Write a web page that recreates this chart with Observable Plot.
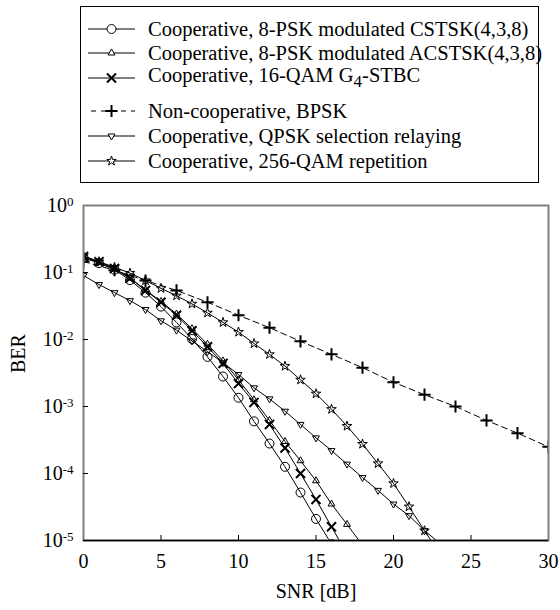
<!DOCTYPE html>
<html><head><meta charset="utf-8">
<script src="https://cdn.jsdelivr.net/npm/d3@7"></script>
<script src="https://cdn.jsdelivr.net/npm/@observablehq/plot@0.6"></script>
<style>
body{margin:0;background:#fff;}
#wrap{position:relative;width:560px;height:610px;font-family:"Liberation Serif","Times New Roman",serif;color:#000;}
#legend{position:absolute;left:80px;top:6px;width:459px;height:177px;border:1px solid #000;box-sizing:border-box;}
.row{position:absolute;left:0;height:24px;display:flex;align-items:center;font-size:20.5px;white-space:nowrap;}
.row svg{flex:none;margin-right:8px;}
#chart{position:absolute;left:0;top:190px;}
#chart svg{display:block;}
</style></head><body>
<div id="wrap"><div id="legend"></div><div id="chart"></div></div>
<script>
// ---- data ----
const snrCSTSK = [0,1,2,3,4,5,6,7,8,9,10,11,12,13,14,15,16];
const berCSTSK = [0.166,0.138,0.110,0.077,0.050,0.031,0.018,0.0102,0.0055,0.0028,0.00135,6.0e-4,2.8e-4,1.26e-4,5.2e-5,2.1e-5,8.9e-6];

const snrACSTSK = [0,1,2,3,4,5,6,7,8,9,10,11,12,13,14,15,16,17,18];
const berACSTSK = [0.170,0.141,0.112,0.083,0.055,0.037,0.024,0.0145,0.0085,0.0048,0.0025,0.00126,6.2e-4,3.0e-4,1.55e-4,7.8e-5,3.5e-5,1.74e-5,8.5e-6];

const snrSTBC = [0,1,2,3,4,5,6,7,8,9,10,11,12,13,14,15,16,17];
const berSTBC = [0.174,0.145,0.115,0.082,0.054,0.036,0.023,0.0135,0.0078,0.0044,0.0022,0.00115,5.4e-4,2.4e-4,1.0e-4,4.1e-5,1.6e-5,6.3e-6];

const snrBPSK = [0,2,4,6,8,10,12,14,16,18,20,22,24,26,28,30];
const berBPSK = [0.146,0.108,0.076,0.054,0.036,0.023,0.015,0.0094,0.0060,0.0038,0.0023,0.0015,0.0010,6.2e-4,4.0e-4,2.5e-4];

const snrQPSK = [0,1,2,3,4,5,6,7,8,9,10,11,12,13,14,15,16,17,18,19,20,21,22,23];
const berQPSK = [0.090,0.066,0.050,0.038,0.028,0.019,0.0138,0.0095,0.0066,0.0045,0.0030,0.0019,0.0013,8.5e-4,5.4e-4,3.4e-4,2.2e-4,1.38e-4,8.7e-5,5.6e-5,3.5e-5,2.35e-5,1.4e-5,9.1e-6];

const snrQAM256 = [0,1,2,3,4,5,6,7,8,9,10,11,12,13,14,15,16,17,18,19,20,21,22,23];
const berQAM256 = [0.178,0.145,0.120,0.098,0.076,0.058,0.045,0.034,0.025,0.018,0.0129,0.0087,0.0060,0.0040,0.0025,0.00155,9.1e-4,5.1e-4,2.75e-4,1.41e-4,7.1e-5,3.2e-5,1.4e-5,6.3e-6];

const seriesNames = [
  "Cooperative, 8-PSK modulated CSTSK(4,3,8)",
  "Cooperative, 8-PSK modulated ACSTSK(4,3,8)",
  "Cooperative, 16-QAM G<sub>4</sub>-STBC",
  "Non-cooperative, BPSK",
  "Cooperative, QPSK selection relaying",
  "Cooperative, 256-QAM repetition"
];
const xTicks = [0,5,10,15,20,25,30];
const yTicks = [1,1e-1,1e-2,1e-3,1e-4,1e-5];

// ---- styles per series ----
const styles = [
  {snr: snrCSTSK, ber: berCSTSK, symbol: "circle", r: 4.5, sw: 1, rotate: 0, dash: null},
  {snr: snrACSTSK, ber: berACSTSK, symbol: "triangle2", r: 3.3, sw: 1, rotate: 0, dash: null},
  {snr: snrSTBC, ber: berSTBC, symbol: "times", r: 4.2, sw: 2, rotate: 0, dash: null},
  {snr: snrBPSK, ber: berBPSK, symbol: "plus", r: 4, sw: 2, rotate: 0, dash: "6,4"},
  {snr: snrQPSK, ber: berQPSK, symbol: "triangle2", r: 3.3, sw: 1, rotate: 180, dash: null},
  {snr: snrQAM256, ber: berQAM256, symbol: "star", r: 3, sw: 1, rotate: 0, dash: null}
];
const tables = styles.map(s => s.snr.map((x, i) => ({x, y: s.ber[i]})));

const marks = [];
styles.forEach((s, k) => {
  marks.push(Plot.line(tables[k], {x: "x", y: "y", stroke: "black", strokeWidth: 1, strokeDasharray: s.dash, clip: true}));
});
styles.forEach((s, k) => {
  marks.push(Plot.dot(tables[k], {x: "x", y: "y", symbol: s.symbol, r: s.r, stroke: "black", fill: "none", strokeWidth: s.sw, rotate: s.rotate, clip: true}));
});

const chart = Plot.plot({
  width: 560, height: 420,
  marginTop: 15, marginBottom: 70, marginLeft: 83, marginRight: 12,
  style: {fontFamily: "'Liberation Serif','Times New Roman',serif", fontSize: "20px", background: "white", overflow: "visible"},
  x: {domain: [0, 30]},
  y: {type: "log", domain: [1e-5, 1]},
  marks: [
    ...marks,
    Plot.frame({stroke: "#808080", strokeWidth: 2}),
    Plot.ruleY([1e-5], {stroke: "black", strokeWidth: 1.5}),
    Plot.ruleX(xTicks.slice(1, -1), {x: d => d, y1: 1e-5, y2: 1e-5, insetTop: -5, stroke: "black"}),
    Plot.ruleY(yTicks.slice(1, -1), {y: d => d, x1: 0, x2: 0, insetRight: -5, stroke: "black"}),
    Plot.axisX(xTicks, {tickSize: 0, tickPadding: 13, fontSize: 20, label: null}),
    Plot.axisY(yTicks, {tickSize: 0, tickPadding: 10, fontSize: 20, label: null, tickFormat: d => "10^" + Math.round(Math.log10(d))}),
    Plot.text(["BER"], {frameAnchor: "left", dx: -65, rotate: -90, fontSize: 20, text: d => d}),
    Plot.text(["SNR [dB]"], {frameAnchor: "bottom", dy: 57, fontSize: 20, text: d => d})
  ]
});
document.getElementById("chart").appendChild(chart);

// superscript exponents on y tick labels
d3.select(chart).selectAll('g[aria-label="y-axis tick label"] text').each(function() {
  const t = this.textContent;
  if (!t.startsWith("10^")) return;
  const exp = t.slice(3).replace("\u2212", "-");
  const sel = d3.select(this);
  sel.text(null);
  sel.append("tspan").text("10");
  sel.append("tspan").attr("dy", "-0.45em").attr("font-size", "13px").text(exp);
});

// ---- legend ----
const legend = d3.select("#legend");
const rowY = [29, 53, 78, 111, 136, 161];
const symMap = {circle: d3.symbolCircle, triangle2: d3.symbolTriangle2, times: d3.symbolTimes, plus: d3.symbolPlus, star: d3.symbolStar};
styles.forEach((s, k) => {
  const row = legend.append("div").attr("class", "row").style("top", (rowY[k] - 12 - 7) + "px");
  const svg = row.append("svg").attr("width", 59).attr("height", 24);
  svg.append("line").attr("x1", 7).attr("x2", 54).attr("y1", 12).attr("y2", 12)
    .attr("stroke", "black").attr("stroke-width", 1).attr("stroke-dasharray", s.dash ? "5,5" : null)
    .attr("stroke-dashoffset", s.dash ? -3 : null);
  svg.append("path").attr("d", d3.symbol(symMap[s.symbol], Math.PI * s.r * s.r)())
    .attr("transform", `translate(30.5,12) rotate(${s.rotate})`)
    .attr("fill", "white").attr("stroke", "black").attr("stroke-width", s.sw);
  row.append("span").html(seriesNames[k]);
});
</script>
</body></html>
